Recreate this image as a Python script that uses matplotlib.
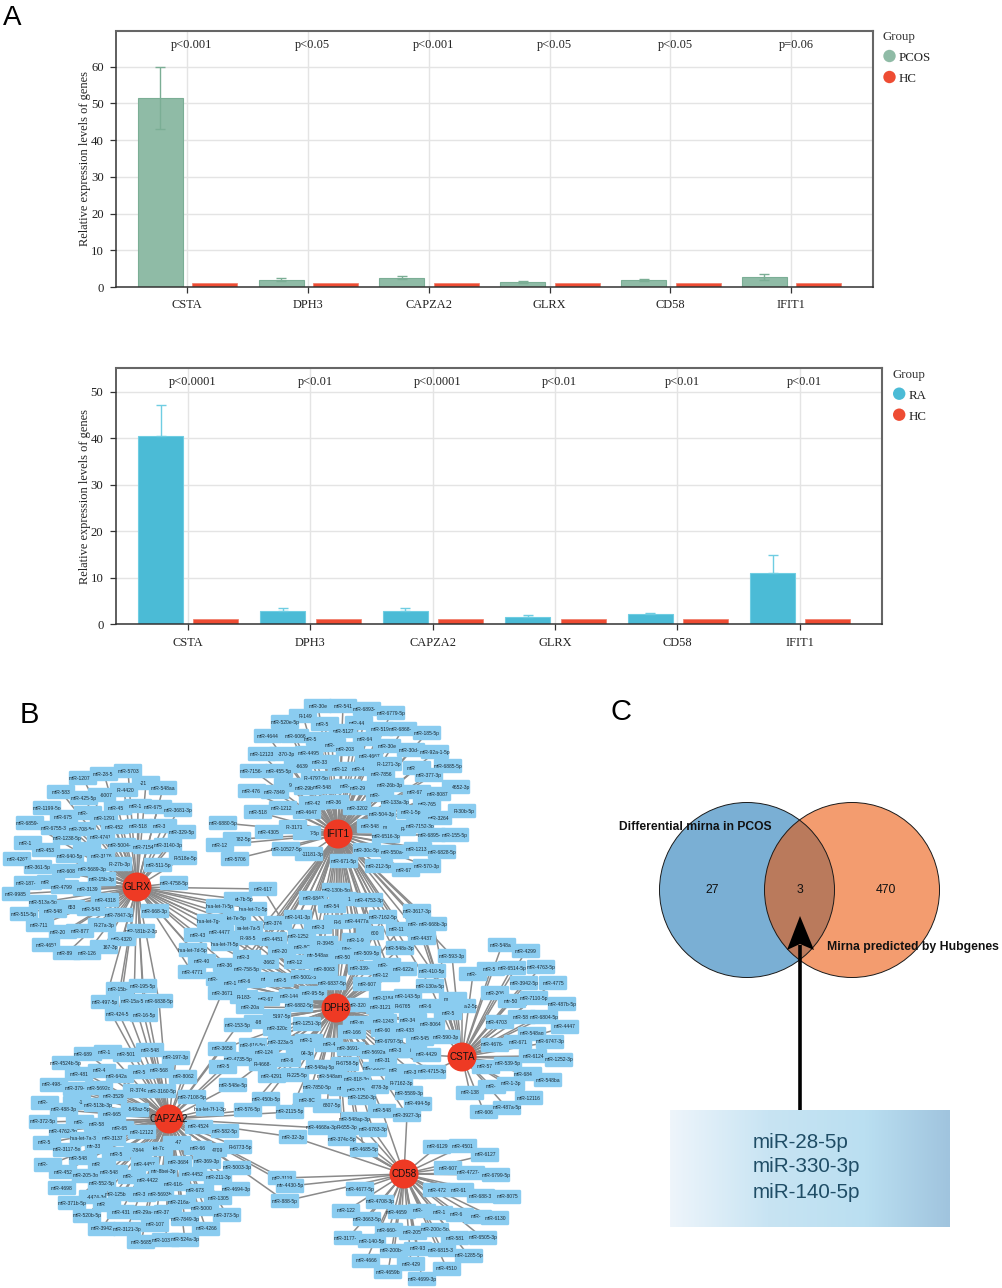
import numpy as np
import matplotlib
matplotlib.use("Agg")
import matplotlib.pyplot as plt
from matplotlib.patches import FancyBboxPatch, Circle, Polygon
from matplotlib.collections import LineCollection

W, H = 1003, 1288
plt.rcParams['font.family'] = ['Liberation Sans', 'DejaVu Sans']

# panel A data
genes = ["CSTA", "DPH3", "CAPZA2", "GLRX", "CD58", "IFIT1"]
pcos_vals = [51.4, 2.0, 2.55, 1.36, 1.8, 2.8]
pcos_err = [8.4, 0.35, 0.35, 0.2, 0.3, 0.8]
hc_top = [1.07, 1.07, 1.07, 1.07, 1.07, 1.07]
pcos_p = ["p<0.001", "p<0.05", "p<0.001", "p<0.05", "p<0.05", "p=0.06"]
ra_vals = [40.4, 2.8, 2.8, 1.65, 2.2, 11.0]
ra_err = [6.8, 0.6, 0.6, 0.25, 0.3, 4.0]
hc_bottom = [1.07, 1.07, 1.07, 1.07, 1.07, 1.07]
ra_p = ["p<0.0001", "p<0.01", "p<0.0001", "p<0.01", "p<0.01", "p<0.01"]

# panel C data
venn_counts = ["27", "3", "470"]
venn_names = ["Differential mirna in PCOS", "Mirna predicted by Hubgenes"]
shared_mirna = ["miR-28-5p", "miR-330-3p", "miR-140-5p"]

# panel B: hub positions and miRNA nodes (label, x, y) in pixels
hubs = {"GLRX": (137, 887), "IFIT1": (338, 834), "DPH3": (336, 1008),
        "CAPZA2": (169, 1119), "CD58": (404, 1174), "CSTA": (462, 1057)}

glrx_nodes = [
    ("miR-1207-5p", 83, 778), ("miR-28-5p", 104, 774), ("miR-5703", 128, 771), ("miR-218a-3p", 146, 783),
    ("miR-548aa", 163, 788), ("miR-583", 61, 792), ("miR-4420", 124, 790), ("miR-6007", 102, 795),
    ("miR-425-5p", 84, 798), ("miR-1199-5p", 47, 808), ("miR-4516", 118, 808), ("miR-181", 138, 806),
    ("miR-6751-3p", 158, 807), ("miR-3681-3p", 178, 810), ("miR-6751", 64, 817), ("miR-4772", 88, 813),
    ("miR-1291", 104, 818), ("miR-6859-5p", 30, 823), ("miR-6755-3p", 55, 828), ("miR-708-5p", 82, 829),
    ("miR-4521", 115, 827), ("miR-5186", 139, 826), ("miR-3918", 163, 826), ("miR-329-5p", 182, 832),
    ("miR-1238-5p", 67, 838), ("miR-4741", 101, 837), ("miR-187", 28, 843), ("miR-4531", 46, 850),
    ("miR-3157", 87, 849), ("miR-5004-5p", 122, 845), ("miR-7154-3p", 147, 847), ("miR-3140-3p", 168, 845),
    ("miR-4267", 17, 859), ("miR-640-5p", 70, 856), ("miR-3176", 101, 856), ("miR-518e-5p", 183, 858),
    ("miR-361-5p", 38, 867), ("miR-27b-3p", 118, 864), ("miR-511-5p", 158, 865), ("miR-608", 66, 871),
    ("miR-5689-3p", 92, 869), ("miR-15b-3p", 102, 879), ("miR-187-3p", 28, 883), ("miR-3120", 51, 882),
    ("miR-4758-5p", 174, 883), ("miR-4799-5p", 65, 887), ("miR-3139", 87, 889), ("miR-9985", 16, 894),
    ("miR-4318", 105, 900), ("miR-513a-5p", 43, 902), ("miR-653-5p", 71, 907), ("miR-543", 91, 909),
    ("miR-548", 53, 911), ("miR-515-5p", 24, 914), ("miR-7847-3p", 119, 915), ("miR-668-3p", 155, 911),
    ("miR-7114", 40, 925), ("miR-27a-3p", 102, 925), ("miR-202-5p", 63, 932), ("miR-877", 80, 931),
    ("miR-181b-2-3p", 141, 931), ("miR-4320", 122, 939), ("miR-4651", 46, 945), ("miR-5167-3p", 104, 947),
    ("miR-892b", 67, 953), ("miR-126", 87, 953),
]
ifit1_nodes = [
    ("miR-30e", 318, 706), ("miR-541", 343, 706), ("miR-6893-3p", 367, 709), ("miR-6779-5p", 391, 713),
    ("miR-149", 303, 716), ("miR-509", 325, 724), ("miR-4426", 359, 723), ("miR-520e-5p", 285, 722),
    ("miR-5127", 343, 731), ("miR-519", 380, 729), ("miR-6868-3p", 403, 729), ("miR-185-5p", 427, 733),
    ("miR-6066", 295, 736), ("miR-4644", 268, 736), ("miR-550a-3-5p", 320, 739), ("miR-6484", 367, 739),
    ("miR-47", 332, 745), ("miR-30e", 387, 746), ("miR-30d-5p", 411, 750), ("miR-92a-1-5p", 435, 752),
    ("miR-203a-3p", 350, 749), ("miR-4495", 309, 753), ("miR-370-3p", 283, 754), ("miR-12123", 262, 754),
    ("miR-4667", 369, 756), ("miR-1271-3p", 388, 764), ("miR-6639", 298, 766), ("miR-33a-3p", 325, 762),
    ("miR-6885-5p", 448, 766), ("miR-1290", 342, 769), ("miR-4307", 362, 769), ("miR-4776", 417, 768),
    ("miR-7156-3p", 254, 771), ("miR-455-5p", 279, 771), ("miR-7856", 381, 774), ("miR-377-3p", 429, 775),
    ("miR-4797-5p", 315, 778), ("miR-6794-3p", 288, 785), ("miR-29b-5p", 308, 788), ("miR-548av-3p", 328, 787),
    ("miR-68", 347, 786), ("miR-29b-2-5p", 365, 788), ("miR-26b-3p", 390, 785), ("miR-4652-3p", 456, 787),
    ("miR-6785", 417, 792), ("miR-8087", 437, 794), ("miR-4760", 252, 791), ("miR-7849", 275, 792),
    ("miR-3144", 380, 795), ("miR-42", 313, 803), ("miR-367", 335, 802), ("miR-133a-3p", 395, 802),
    ("miR-765", 427, 804), ("miR-3202", 357, 808), ("miR-30b-5p", 462, 811), ("miR-518", 258, 812),
    ("miR-12125", 283, 808), ("miR-4647", 307, 812), ("miR-504-3p", 382, 814), ("miR-1-5p", 411, 812),
    ("miR-3264", 438, 818), ("miR-548p", 371, 826), ("miR-3178", 393, 827), ("miR-4", 402, 829),
    ("miR-7152-3p", 420, 826), ("miR-6516-3p", 386, 836), ("miR-6895-3p", 432, 835), ("miR-155-5p", 455, 835),
    ("miR-30c-5p", 367, 850), ("miR-550a-5p", 395, 852), ("miR-12131", 418, 849), ("miR-6828-5p", 442, 852),
    ("miR-212-5p", 379, 866), ("miR-6728", 406, 870), ("miR-570-3p", 427, 866), ("miR-671-5p", 344, 861),
    ("miR-11181-3p", 309, 854), ("miR-10527-5p", 286, 849), ("miR-127-5p", 307, 833), ("miR-3171", 293, 827),
    ("miR-4305", 269, 832), ("miR-4782-5p", 237, 839), ("miR-6880-5p", 223, 823), ("miR-12", 220, 845),
    ("miR-5706", 235, 859),
]
# targets shared by two hubs
glrx_dph3_nodes = [
    ("miR-617", 263, 889), ("hsa-let-7b-5p", 238, 899), ("hsa-let-7i-5p", 220, 906), ("hsa-let-7c-5p", 253, 909),
    ("hsa-let-7g-5p", 211, 921), ("let-7e-5p", 237, 918), ("hsa-let-7a-5p", 249, 928), ("miR-43", 198, 935),
    ("miR-4477", 220, 932), ("miR-98-5p", 248, 938), ("hsa-let-7f-5p", 225, 944), ("hsa-let-7d-5p", 193, 950),
    ("miR-40", 202, 961), ("miR-3646", 227, 965), ("miR-4771", 192, 972),
]
ifit1_dph3_nodes = [
    ("miR-374a-3p", 278, 923), ("miR-141-3p", 298, 917), ("miR-4451", 273, 939), ("miR-1252-5p", 302, 936),
    ("miR-3163", 247, 957), ("miR-200a", 282, 951), ("miR-3662", 265, 962), ("miR-758-5p", 247, 969),
    ("miR-12135", 298, 962), ("miR-708-3p", 220, 979), ("miR-103", 233, 983), ("miR-6504-3p", 252, 981),
    ("miR-130b-5p", 336, 890), ("miR-6843", 313, 898), ("miR-31", 343, 899), ("miR-4753-3p", 369, 900),
    ("miR-54", 332, 906), ("miR-680", 338, 922), ("miR-4477a", 357, 921), ("miR-7162-5p", 383, 917),
    ("miR-3", 318, 927), ("miR-600", 370, 933), ("miR-11399", 400, 929), ("miR-3945", 324, 943),
    ("miR-8C", 302, 947), ("miR-4293", 352, 948), ("miR-1-9", 356, 940), ("miR-50", 343, 957),
    ("mir-548ax", 318, 955), ("miR-509-5p", 367, 953), ("miR-548x-3p", 400, 948), ("miR-339-5p", 362, 968),
    ("miR-540", 387, 965), ("miR-124-3p", 386, 975), ("miR-622a", 403, 969),
]
ifit1_csta_nodes = [
    ("miR-3617-3p", 417, 911), ("miR-194-5p", 420, 924), ("miR-668b-3p", 433, 924), ("miR-4437", 422, 938),
    ("miR-593-3p", 452, 956), ("miR-410-5p", 432, 971), ("miR-130a-5p", 430, 986),
]
dph3_nodes = [
    ("miR-8", 267, 979), ("miR-5", 280, 980), ("miR-5002-5p", 305, 977), ("miR-8063", 324, 969),
    ("miR-6837-5p", 332, 983), ("miR-607", 367, 984), ("miR-183-3p", 244, 997), ("miR-67", 266, 999),
    ("miR-144-5p", 293, 996), ("miR-95-5p", 313, 993), ("miR-20a", 250, 1007), ("miR-6882-5p", 299, 1005),
    ("miR-5197-5p", 277, 1016), ("miR-98-3p", 258, 1022), ("miR-320c", 277, 1029), ("miR-1251-3p", 307, 1024),
    ("miR-616-5p", 253, 1045), ("miR-323a-5p", 282, 1043), ("miR-194", 309, 1041), ("miR-4", 329, 1045),
    ("miR-3691-3p", 351, 1049), ("miR-1184", 383, 998), ("miR-143-5p", 408, 996), ("miR-320e", 358, 1005),
    ("miR-6765", 400, 1006), ("miR-647", 428, 1006), ("miR-3121", 380, 1007), ("miR-340-5p", 413, 1020),
    ("miR-1243", 383, 1021), ("miR-8064", 431, 1025), ("miR-m", 357, 1023), ("miR-6058", 385, 1030),
    ("miR-166", 352, 1032), ("miR-433", 405, 1031), ("miR-545", 420, 1039), ("miR-6797-5p", 389, 1042),
    ("miR-4", 413, 1051), ("miR-3", 395, 1051), ("miR-5692a", 374, 1052), ("miR-6758-5p", 345, 1064),
    ("miR-5004-3p", 377, 1069), ("miR-31", 383, 1061), ("miR-657-3p", 402, 1071), ("miR-362", 413, 1072),
    ("miR-548am-3p", 333, 1077), ("miR-818-3p", 357, 1079), ("miR-7162-3p", 399, 1083), ("miR-4778-3p", 375, 1087),
    ("miR-5", 343, 1089), ("miR-215", 356, 1090), ("miR-5589-3p", 409, 1093), ("miR-1250-3p", 362, 1098),
    ("miR-494-5p", 418, 1104), ("miR-6807-5p", 327, 1106), ("miR-7850-5p", 317, 1087), ("miR-225-5p", 295, 1075),
    ("miR-4291", 272, 1076), ("miR-548aj-5p", 320, 1067), ("miR-4604-3p", 300, 1053), ("miR-1243", 265, 1053),
    ("miR-4668-3p", 263, 1064), ("miR-6", 287, 1060), ("miR-450b-5p", 266, 1099), ("miR-8C", 307, 1100),
]
csta_dph3_nodes = [
    ("miR-590-3p", 446, 1037), ("miR-4429", 427, 1055), ("miR-4715-3p", 432, 1072), ("miR-128", 453, 999),
    ("miR-103a-2-5p", 462, 1006), ("miR-5", 448, 1013),
]
capza2_dph3_nodes = [
    ("miR-3671", 222, 993), ("miR-153-5p", 238, 1025), ("miR-3658", 222, 1049), ("miR-4735-5p", 238, 1059),
    ("miR-5", 223, 1067), ("miR-548e-5p", 233, 1085), ("miR-576-5p", 248, 1110), ("miR-2115-5p", 290, 1112),
]
dph3_cd58_nodes = [
    ("miR-548", 382, 1111), ("miR-3927-3p", 407, 1115), ("miR-548ap-3p", 355, 1119), ("miR-655-3p", 345, 1128),
    ("miR-6763-3p", 373, 1130), ("miR-374c-5p", 342, 1139), ("miR-4685-5p", 364, 1150),
]
capza2_cd58_nodes = [
    ("miR-4668a-3p", 322, 1128), ("miR-32-3p", 293, 1137), ("miR-3119", 282, 1178), ("mir-4430-5p", 290, 1186),
    ("miR-888-5p", 285, 1201),
]
glrx_capza2_nodes = [
    ("miR-15b-5p", 120, 989), ("miR-195-5p", 143, 986), ("miR-497-5p", 105, 1002), ("miR-15a-5p", 134, 1001),
    ("miR-6838-5p", 159, 1001), ("miR-424-5p", 119, 1014), ("miR-16-5p", 144, 1015),
]
capza2_nodes = [
    ("miR-6891-3p", 88, 1054), ("miR-1469", 108, 1052), ("miR-5011", 127, 1055), ("miR-548", 150, 1050),
    ("miR-197-3p", 176, 1058), ("miR-4524b-5p", 66, 1063), ("miR-481", 79, 1074), ("miR-495", 102, 1071),
    ("miR-642a-5p", 120, 1076), ("miR-589", 142, 1072), ("miR-5688", 160, 1071), ("miR-8062", 183, 1077),
    ("miR-498-5p", 54, 1085), ("miR-379-5p", 77, 1089), ("miR-5692c", 99, 1088), ("miR-374c", 137, 1091),
    ("miR-3160-5p", 162, 1091), ("miR-3529", 113, 1097), ("miR-7108-5p", 192, 1097), ("miR-12", 45, 1103),
    ("miR-1", 77, 1103), ("miR-513b-3p", 98, 1105), ("miR-488-3p", 64, 1110), ("miR-548az-5p", 135, 1110),
    ("hsa-let-7f-1-3p", 210, 1109), ("miR-372-5p", 43, 1122), ("miR-4", 80, 1122), ("miR-665", 112, 1115),
    ("miR-586", 98, 1125), ("miR-65", 120, 1128), ("miR-4524", 199, 1127), ("miR-582-5p", 225, 1131),
    ("miR-4762-3p", 63, 1131), ("miR-12122", 142, 1132), ("miR-524", 47, 1143), ("hsa-let-7a-3p", 84, 1139),
    ("miR-3137", 112, 1139), ("miR-4710", 177, 1143), ("miR-3117-5p", 67, 1150), ("mir-338-5p", 99, 1147),
    ("miR-7844-5p", 138, 1150), ("let-7c", 159, 1149), ("miR-6773-5p", 238, 1147), ("miR-4709", 213, 1150),
    ("miR-66", 198, 1148), ("miR-548b-5p", 83, 1158), ("miR-5", 116, 1154), ("miR-5700", 48, 1165),
    ("miR-452", 63, 1172), ("miR-3187", 102, 1165), ("miR-4457", 145, 1164), ("miR-3684", 178, 1163),
    ("miR-369-3p", 207, 1162), ("miR-5003-3p", 237, 1168), ("miR-205-3p", 86, 1176), ("miR-5488-5p", 114, 1172),
    ("mir-8bei-3p", 163, 1172), ("miR-4452", 193, 1174), ("miR-211-3p", 218, 1178), ("miR-392", 132, 1177),
    ("miR-4422", 148, 1181), ("miR-552-5p", 102, 1184), ("miR-616-5p", 176, 1184), ("miR-4694-3p", 236, 1189),
    ("miR-4698", 62, 1188), ("miR-6730-5p", 200, 1191), ("miR-4474-3p", 93, 1197), ("miR-125b-2-3p", 122, 1194),
    ("miR-374", 142, 1195), ("miR-5693b", 160, 1194), ("miR-1305", 218, 1198), ("miR-371b-5p", 72, 1203),
    ("miR-5000", 107, 1205), ("miR-216a-5p", 182, 1202), ("miR-5000-3p", 205, 1209), ("miR-431", 121, 1212),
    ("miR-29a-5p", 145, 1213), ("miR-374b-3p", 168, 1212), ("miR-520b-5p", 87, 1216), ("miR-373-5p", 227, 1215),
    ("miR-7849-3p", 185, 1219), ("miR-3942", 102, 1229), ("miR-3121-3p", 127, 1229), ("miR-107", 155, 1225),
    ("miR-4266", 206, 1229), ("miR-5685", 141, 1242), ("miR-103a-3p", 166, 1240), ("miR-524a-3p", 185, 1240),
]
cd58_nodes = [
    ("miR-6129", 437, 1147), ("miR-4501", 463, 1146), ("miR-6127", 485, 1155), ("miR-607", 448, 1168),
    ("miR-4727-3p", 471, 1173), ("miR-6799-5p", 496, 1175), ("miR-472", 437, 1190), ("miR-617", 460, 1190),
    ("miR-688-3p", 481, 1196), ("miR-8075", 507, 1197), ("miR-4677-5p", 360, 1189), ("miR-4708-3p", 380, 1202),
    ("miR-122", 346, 1211), ("miR-4659a-3p", 402, 1212), ("miR-545", 422, 1211), ("miR-1", 439, 1213),
    ("miR-6084", 460, 1215), ("miR-12", 478, 1217), ("miR-6130", 495, 1218), ("miR-3663-5p", 367, 1219),
    ("miR-660-3p", 389, 1230), ("miR-2054", 413, 1233), ("miR-200c-5p", 435, 1230), ("miR-581", 455, 1238),
    ("miR-6505-3p", 483, 1238), ("miR-3177-5p", 348, 1238), ("miR-140-5p", 372, 1241), ("miR-200b-3p", 394, 1251),
    ("miR-93", 418, 1249), ("miR-6815-3p", 442, 1250), ("miR-1285-5p", 469, 1256), ("miR-4666", 366, 1261),
    ("miR-429", 411, 1264), ("miR-4510", 447, 1269), ("miR-4659b", 388, 1272), ("miR-4699-3p", 422, 1279),
]
csta_nodes = [
    ("miR-548ai", 502, 945), ("miR-4299", 526, 951), ("miR-3", 473, 974), ("miR-57", 491, 969),
    ("miR-6514-5p", 512, 968), ("miR-4763-5p", 541, 967), ("miR-3942-5p", 524, 983), ("miR-4775", 553, 983),
    ("miR-206", 495, 993), ("mir-501", 512, 1001), ("miR-7110-5p", 534, 998), ("miR-487b-5p", 562, 1004),
    ("miR-4703-5p", 500, 1022), ("miR-589", 522, 1017), ("miR-6804-5p", 544, 1017), ("miR-4447", 565, 1027),
    ("miR-548ag", 532, 1034), ("miR-4676-5p", 495, 1045), ("miR-671", 518, 1042), ("miR-6747-3p", 550, 1042),
    ("miR-6124", 533, 1056), ("miR-1252-3p", 559, 1060), ("miR-571", 486, 1067), ("miR-539-5p", 508, 1064),
    ("miR-6842-5p", 528, 1074), ("miR-548ba", 548, 1080), ("miR-6", 492, 1087), ("miR-1-3p", 511, 1084),
    ("miR-138", 470, 1093), ("miR-12116", 529, 1098), ("miR-606", 484, 1112), ("miR-487a-5p", 507, 1108),
]

network = [
    (("GLRX",), glrx_nodes), (("IFIT1",), ifit1_nodes), (("GLRX", "DPH3"), glrx_dph3_nodes),
    (("IFIT1", "DPH3"), ifit1_dph3_nodes), (("IFIT1", "CSTA"), ifit1_csta_nodes), (("DPH3",), dph3_nodes),
    (("CSTA", "DPH3"), csta_dph3_nodes), (("CAPZA2", "DPH3"), capza2_dph3_nodes), (("DPH3", "CD58"), dph3_cd58_nodes),
    (("CAPZA2", "CD58"), capza2_cd58_nodes), (("GLRX", "CAPZA2"), glrx_capza2_nodes), (("CAPZA2",), capza2_nodes),
    (("CD58",), cd58_nodes), (("CSTA",), csta_nodes),
]

serif = ["Liberation Serif", "DejaVu Serif"]


def px_axes(fig, left, top, right, bottom):
    return fig.add_axes([left / W, 1 - bottom / H, (right - left) / W, (bottom - top) / H])


def bar_panel(ax, vals, errs, hc, labels, color, edge, two_sided, ymax, xlim, width, p_y):
    x = np.arange(len(genes))
    ax.set_axisbelow(True)
    ax.grid(color="#e4e4e4", lw=1.0)
    ax.bar(x - 0.222, vals, width, color=color, edgecolor=edge, lw=0.8, zorder=2)
    ax.bar(x + 0.23, hc, width, color="#ee4c33", edgecolor="#f07a68", lw=0.5, zorder=2)
    lower = errs if two_sided else [0] * len(errs)
    ax.errorbar(x - 0.222, vals, yerr=[lower, errs], fmt="none", ecolor=edge, elinewidth=1.0,
                capsize=3.8, capthick=1.0, zorder=3)
    for xi, lab in zip(x, labels):
        ax.text(xi + 0.04, p_y, lab, ha="center", va="center", fontsize=8.9, color="#222222", family=serif)
    ax.set_xlim(*xlim)
    ax.set_ylim(0, ymax)
    ax.set_xticks(x)
    ax.set_xticklabels(genes, fontsize=8.9, family=serif, color="#222222")
    ax.set_yticks(np.arange(0, ymax, 10))
    for t in ax.get_yticklabels():
        t.set_fontsize(9.2)
        t.set_family(serif)
        t.set_color("#222222")
    ax.tick_params(axis="both", length=4, width=0.9, color="#333333", pad=5)
    ax.set_ylabel("Relative expression levels of genes", fontsize=8.9, color="#222222", family=serif)
    ax.yaxis.set_label_coords(-0.033, 0.5)
    for side in ("left", "bottom"):
        ax.spines[side].set_color("#333333")
        ax.spines[side].set_linewidth(1.1)
    for side in ("top", "right"):
        ax.spines[side].set_color("#666666")
        ax.spines[side].set_linewidth(1.5)


fig = plt.figure(figsize=(W / 100, H / 100), dpi=100)

ax1 = px_axes(fig, 116.4, 31, 872.7, 287)
bar_panel(ax1, pcos_vals, pcos_err, hc_top, pcos_p, "#8fbba6", "#7bae95", True, 69.7, (-0.585, 5.675), 0.3725, 65.9)
ax2 = px_axes(fig, 116, 368, 882, 624.3)
bar_panel(ax2, ra_vals, ra_err, hc_bottom, ra_p, "#4bbbd6", "#6fcde2", False, 55.1, (-0.586, 5.672), 0.368, 52.1)

# overlay in picture pixels for letters, legends and panels B and C
ov = fig.add_axes([0, 0, 1, 1], zorder=5)
ov.set_xlim(0, W)
ov.set_ylim(H, 0)
ov.axis("off")
ov.patch.set_alpha(0)

for x0, y0, first, first_col in [(883, 37, "PCOS", "#8fbba6"), (892.7, 374.7, "RA", "#4bbbd6")]:
    ov.text(x0, y0, "Group", fontsize=9.3, family=serif, color="#333333", va="center")
    ov.add_patch(Circle((x0 + 6.5, y0 + 19), 6.2, color=first_col, lw=0))
    ov.add_patch(Circle((x0 + 6.5, y0 + 40), 6.2, color="#ee4c33", lw=0))
    ov.text(x0 + 16, y0 + 21, first, fontsize=9.3, family=serif, color="#222222", va="center")
    ov.text(x0 + 16, y0 + 42, "HC", fontsize=9.3, family=serif, color="#222222", va="center")

ov.text(3, 25, "A", fontsize=20, va="baseline", color="black")
ov.text(20, 723, "B", fontsize=21, va="baseline", color="black")
ov.text(611, 720, "C", fontsize=21, va="baseline", color="black")

# network edges first, then nodes so that later boxes cover earlier ones
segments = []
for hub_names, nodes in network:
    for _, nx, ny in nodes:
        for name in hub_names:
            segments.append([hubs[name], (nx, ny)])
ov.add_collection(LineCollection(segments, colors="#8a8a8a", linewidths=1.1, zorder=1))

all_nodes = [n for _, nodes in network for n in nodes]
CHAR_W = 2.5
BOX_HALF = 14.2


def visible_part(i):
    # a later box hides part of the label, as in the original network export
    label, x, y = all_nodes[i]
    x0 = x - len(label) * CHAR_W / 2
    left, right = x0, x + len(label) * CHAR_W / 2
    for _, xj, yj in all_nodes[i + 1:]:
        if abs(yj - y) >= 7.5:
            continue
        if xj + BOX_HALF <= left or xj - BOX_HALF >= right:
            continue
        if xj >= x:
            right = min(right, xj - BOX_HALF)
        else:
            left = max(left, xj + BOX_HALF)
    a = int(np.ceil((left - x0) / CHAR_W - 0.01))
    b = int(np.floor((right - x0) / CHAR_W + 0.01))
    if b <= a:
        return "", x
    return label[a:b], x0 + (a + b) / 2 * CHAR_W


z = 2.0
for i, (label, nx, ny) in enumerate(all_nodes):
    z += 0.001
    ov.add_patch(FancyBboxPatch((nx - 13, ny - 6), 26, 12, boxstyle="round,pad=1.2,rounding_size=1.5",
                                fc="#8accf0", ec="none", zorder=z))
    shown, tx = visible_part(i)
    if shown:
        ov.text(tx, ny, shown, fontsize=3.6, ha="center", va="center", color="#1c2a33", zorder=z)

for name, (hx, hy) in hubs.items():
    ov.add_patch(Circle((hx, hy), 14.5, fc="#ee3a24", ec="none", zorder=4))
    ov.text(hx, hy, name, fontsize=7.1, ha="center", va="center", color="#111111", zorder=4.1)

# panel C venn
ov.add_patch(Circle((747, 890), 87.5, fc="#7aafd4", ec="none", zorder=2))
ov.add_patch(Circle((852, 890), 87.5, fc="#f39c6f", ec="none", zorder=2.1))
lens = Circle((747, 890), 87.5, fc="#ba7a5c", ec="none", zorder=2.2)
ov.add_patch(lens)
lens.set_clip_path(Circle((852, 890), 87.5, transform=ov.transData))
for cx in (747, 852):
    ov.add_patch(Circle((cx, 890), 87.5, fc="none", ec="#1a1a1a", lw=0.7, zorder=2.3))
ov.text(619, 827, venn_names[0], fontsize=8.7, fontweight="bold", va="center", zorder=3, color="#111111")
ov.text(827, 947, venn_names[1], fontsize=8.8, fontweight="bold", va="center", zorder=3, color="#111111")
for cx, txt in zip((712, 800, 886), venn_counts):
    ov.text(cx, 890, txt, fontsize=8.8, ha="center", va="center", zorder=3, color="#111111")

# gradient box with the shared miRNAs
grad = np.array([[238, 245, 251], [200, 228, 243], [186, 223, 241], [160, 196, 222]], dtype=float) / 255
stops = np.linspace(0, 1, 256)
grad_img = np.stack([np.interp(stops, [0, 0.35, 0.7, 1], grad[:, c]) for c in range(3)], axis=-1)[None, :, :]
ov.imshow(grad_img, extent=(670, 950, 1227, 1110), aspect="auto", zorder=2)
ov.set_xlim(0, W)
ov.set_ylim(H, 0)
for ty, txt in zip((1142, 1167, 1193), shared_mirna):
    ov.text(753, ty, txt, fontsize=14.9, va="center", color="#1f4d66", zorder=3)

# arrow from the box up into the overlap
ov.plot([800, 800], [1110, 945], color="black", lw=2.6, zorder=3, solid_capstyle="butt")
ov.add_patch(Polygon([(800, 916), (814, 950), (800, 944), (787, 950)], closed=True, fc="black", ec="none", zorder=3))

fig.savefig("out.png", dpi=100)
